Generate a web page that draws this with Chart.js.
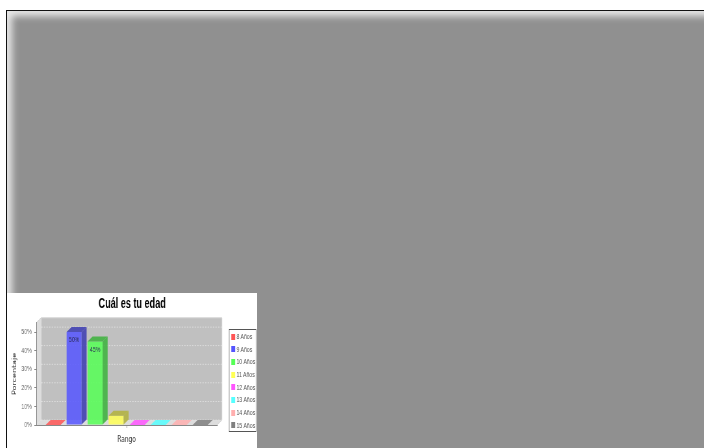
<!DOCTYPE html>
<html>
<head>
<meta charset="utf-8">
<title>Cuál es tu edad</title>
<script src="https://cdn.jsdelivr.net/npm/chart.js@4.4.0/dist/chart.umd.min.js"></script>
<style>
    html, body { margin: 0; padding: 0; background: #fff; width: 704px; height: 448px; overflow: hidden; }
    #frame {
        position: absolute; left: 6px; top: 10px; width: 720px; height: 460px;
        border-top: 1.5px solid #111; border-left: 1.5px solid #111;
        background: #909090;
        box-shadow: inset 4px 4px 7px 1px #e8e8e8;
    }
    #card { position: absolute; left: 7px; top: 293px; width: 250px; height: 155px; background: #fff; overflow: hidden; }
    /* the original picture is squeezed horizontally */
    #wrap { position: absolute; left: 0; top: 0; width: 385px; height: 155px; transform: scaleX(0.65); transform-origin: 0 0; }
    #legend {
        position: absolute; left: 341px; top: 36px; width: 43px; height: 103px;
        border: 1px solid #555; box-sizing: border-box; padding-top: 1px;
        font: 8px "Liberation Sans", Arial, sans-serif; color: #555;
    }
    .item { height: 12.7px; line-height: 12.7px; white-space: nowrap; padding-left: 3px; }
    .sw { display: inline-block; width: 6px; height: 6px; margin-right: 2px; vertical-align: -0.5px; }
</style>
</head>
<body>
<div id="frame"></div>
<div id="card">
    <div id="wrap">
        <canvas id="edadChart"></canvas>
        <div id="legend"></div>
    </div>
</div>
<script>
// Data
const categories = [''];   // one category on the "Rango" axis
const seriesNames = ['8 Años', '9 Años', '10 Años', '11 Años', '12 Años', '13 Años', '14 Años', '15 Años'];
const seriesValues = [0, 50, 45, 5, 0, 0, 0, 0];
const seriesColors = ['#ff5555', '#5555ff', '#55ff55', '#ffff55', '#ff55ff', '#55ffff', '#ffafaf', '#808080'];
const yTickValues = [0, 10, 20, 30, 40, 50];

// 3D depth of the bars / plot box
const DX = 7.7, DY = 5;
const ALPHA = 0.85;

function rgba(hex, k) {
    const n = parseInt(hex.slice(1), 16);
    const r = Math.floor(((n >> 16) & 255) * k);
    const g = Math.floor(((n >> 8) & 255) * k);
    const b = Math.floor((n & 255) * k);
    return `rgba(${r},${g},${b},${ALPHA})`;
}

/**
 * Draws the 3D plot box (back wall, left wall, floor) and gridlines
 */
const box3d = {
    id: 'box3d',
    beforeDraw(chart) {
        const { ctx, chartArea: a, scales: { y } } = chart;
        ctx.save();
        // back wall
        ctx.fillStyle = '#c0c0c0';
        ctx.fillRect(a.left + DX, a.top - DY, a.right - a.left, a.bottom - a.top);
        // left wall
        ctx.fillStyle = '#dddddd';
        ctx.beginPath();
        ctx.moveTo(a.left, a.top);
        ctx.lineTo(a.left + DX, a.top - DY);
        ctx.lineTo(a.left + DX, a.bottom - DY);
        ctx.lineTo(a.left, a.bottom);
        ctx.closePath();
        ctx.fill();
        // floor
        ctx.beginPath();
        ctx.moveTo(a.left, a.bottom);
        ctx.lineTo(a.left + DX, a.bottom - DY);
        ctx.lineTo(a.right + DX, a.bottom - DY);
        ctx.lineTo(a.right, a.bottom);
        ctx.closePath();
        ctx.fill();
        // gridlines on the back wall
        ctx.strokeStyle = '#e6e6e6';
        ctx.lineWidth = 0.8;
        ctx.setLineDash([2, 2]);
        yTickValues.forEach(v => {
            const py = y.getPixelForValue(v) - DY;
            ctx.beginPath();
            ctx.moveTo(a.left + DX, py);
            ctx.lineTo(a.right + DX, py);
            ctx.stroke();
        });
        ctx.setLineDash([]);
        // outline
        ctx.strokeStyle = '#d4d4d4';
        ctx.lineWidth = 1;
        ctx.beginPath();
        ctx.moveTo(a.left, a.top);
        ctx.lineTo(a.left + DX, a.top - DY);
        ctx.lineTo(a.right + DX, a.top - DY);
        ctx.lineTo(a.right + DX, a.bottom - DY);
        ctx.lineTo(a.right, a.bottom);
        ctx.stroke();
        ctx.restore();
    },
    afterDatasetsDraw(chart) {
        const { ctx } = chart;
        ctx.save();
        chart.data.datasets.forEach((ds, i) => {
            chart.getDatasetMeta(i).data.forEach((bar, j) => {
                const { x, y, base, width } = bar.getProps(['x', 'y', 'base', 'width'], true);
                const l = x - width / 2, r = x + width / 2;
                const flat = base - y < 1;
                ctx.fillStyle = rgba(seriesColors[i], flat ? 1 : 0.7);
                // side
                if (!flat) {
                    ctx.beginPath();
                    ctx.moveTo(r, y);
                    ctx.lineTo(r + DX, y - DY);
                    ctx.lineTo(r + DX, base - DY);
                    ctx.lineTo(r, base);
                    ctx.closePath();
                    ctx.fill();
                }
                // top
                ctx.beginPath();
                ctx.moveTo(l, y);
                ctx.lineTo(l + DX, y - DY);
                ctx.lineTo(r + DX, y - DY);
                ctx.lineTo(r, y);
                ctx.closePath();
                ctx.fill();
                // value label inside the bar
                const v = ds.data[j];
                if (base - y > 20) {
                    ctx.fillStyle = '#2a2a55';
                    ctx.font = '8px "Liberation Sans", Arial, sans-serif';
                    ctx.textAlign = 'center';
                    ctx.textBaseline = 'middle';
                    ctx.fillText(v + '%', x, y + 8);
                }
            });
        });
        ctx.restore();
    }
};

new Chart(document.getElementById('edadChart'), {
    type: 'bar',
    data: {
        labels: categories,
        datasets: seriesNames.map((name, i) => ({
            label: name,
            data: [seriesValues[i]],
            backgroundColor: rgba(seriesColors[i], 1),
            borderWidth: 0,
            categoryPercentage: 0.93,
            barPercentage: 0.714
        }))
    },
    options: {
        responsive: true,
        maintainAspectRatio: false,
        animation: false,
        layout: { padding: 0 },
        plugins: {
            legend: { display: false },
            tooltip: { enabled: false },
            title: {
                display: true,
                text: 'Cuál es tu edad',
                color: '#000',
                font: { family: '"Liberation Sans", Arial, sans-serif', size: 14, weight: 'bold' },
                padding: { top: 3, bottom: 10 }
            }
        },
        scales: {
            x: {
                offset: true,
                grid: { display: true, drawOnChartArea: false, offset: false, tickLength: 3, color: '#888' },
                border: { display: true, color: '#888' },
                ticks: { display: false },
                title: {
                    display: true,
                    text: 'Rango',
                    color: '#444',
                    font: { family: '"DejaVu Sans", sans-serif', size: 9 },
                    padding: { top: 0, bottom: 2.6 }
                },
                afterFit: s => { s.height = 23; }
            },
            y: {
                min: 0,
                max: 55,
                grid: { display: true, drawOnChartArea: false, tickLength: 3, color: '#888' },
                border: { display: true, color: '#888' },
                ticks: {
                    stepSize: 10,
                    includeBounds: false,
                    padding: 4,
                    color: '#666',
                    font: { family: '"Liberation Sans", Arial, sans-serif', size: 8 },
                    callback: v => v + '%'
                },
                title: {
                    display: true,
                    text: 'Porcentaje',
                    color: '#333',
                    font: { family: '"DejaVu Sans", sans-serif', size: 8 },
                    padding: { top: 7.5, bottom: 0 }
                },
                afterFit: s => { s.width = 45; }
            },
            // empty axis on the right: keeps room for the legend box
            yRight: {
                position: 'right',
                display: true,
                grid: { display: false },
                border: { display: false },
                ticks: { display: false },
                afterFit: s => { s.width = 62; }
            }
        }
    },
    plugins: [box3d]
});

// Legend built from the series arrays
const legendEl = document.getElementById('legend');
seriesNames.forEach((name, i) => {
    const item = document.createElement('div');
    item.className = 'item';
    const sw = document.createElement('span');
    sw.className = 'sw';
    sw.style.background = seriesColors[i];
    item.appendChild(sw);
    item.appendChild(document.createTextNode(name));
    legendEl.appendChild(item);
});
</script>
</body>
</html>
